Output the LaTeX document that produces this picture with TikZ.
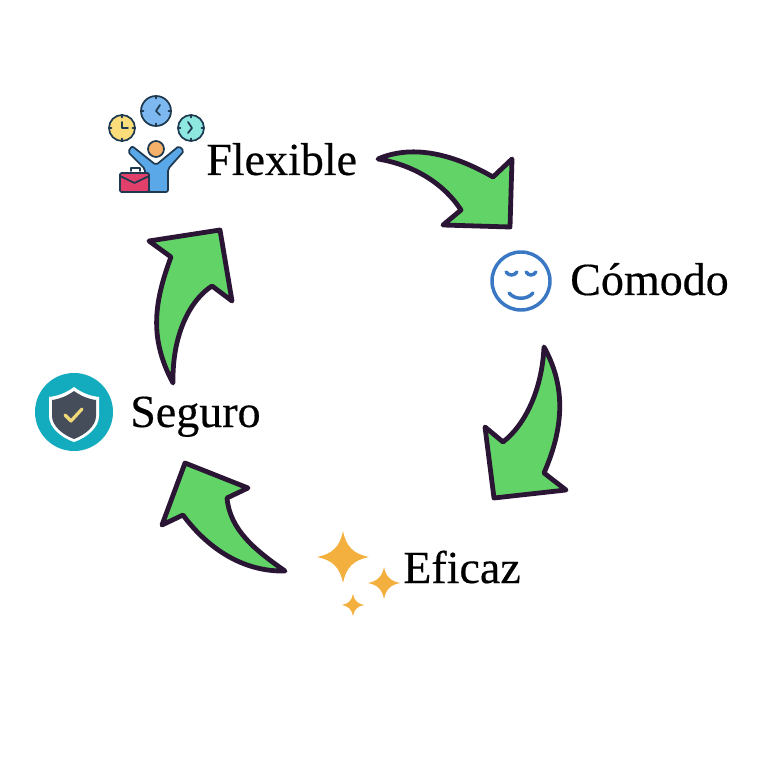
\documentclass[tikz,border=0pt]{standalone}
\usepackage{fontspec}
\setmainfont[FakeBold=0.35]{Liberation Serif}
\definecolor{arrowgreen}{HTML}{62D367}
\definecolor{arrowink}{HTML}{2A1534}
\definecolor{iconink}{HTML}{1F3A50}
\definecolor{clockblue}{HTML}{7DB8F0}
\definecolor{clockyellow}{HTML}{FBDC7A}
\definecolor{clockcyan}{HTML}{8FE8E0}
\definecolor{skin}{HTML}{F5B06A}
\definecolor{bodyblue}{HTML}{5AA8E8}
\definecolor{caseред}{HTML}{E0406A}
\definecolor{smile}{HTML}{3A78C4}
\definecolor{teal}{HTML}{13ACBE}
\definecolor{shielddark}{HTML}{454D5B}
\definecolor{checkyellow}{HTML}{F0D878}
\definecolor{spark}{HTML}{F4B03E}
\tikzset{
  flow/.style={draw=arrowink,fill=arrowgreen,line width=3.6pt,line join=round},
  label/.style={anchor=base west,inner sep=0pt,font=\fontsize{34.5}{36}\selectfont,text=black},
  iconline/.style={draw=iconink,line width=1.3pt,line join=round,line cap=round},
  smileline/.style={draw=smile,line width=2.6pt,line cap=round},
}
\begin{document}
\begin{tikzpicture}[x=0.75pt,y=-0.75pt]
\useasboundingbox (0,0) rectangle (768,759);
\fill[white] (0,0) rectangle (768,759);
% arrows
\draw[flow] (378,159) .. controls (410,145) and (450,152) .. (493,177) -- (512,159) -- (510,227) -- (443,225) -- (461,210) .. controls (445,185) and (415,165) .. (378,159) -- cycle;
\draw[flow] (544,347) .. controls (565,385) and (565,425) .. (544,473) -- (566,490) -- (494,498) -- (485,427) -- (503,442) .. controls (525,425) and (542,390) .. (544,347) -- cycle;
\draw[flow] (285,571) .. controls (255,550) and (230,530) .. (227,498) -- (248,488) -- (185,463) -- (162,525) -- (183,515) .. controls (205,545) and (240,572) .. (285,571) -- cycle;
\draw[flow] (173,383) .. controls (150,340) and (153,305) .. (171,257) -- (149,241) -- (220,230) -- (232,301) -- (212,286) .. controls (190,300) and (172,335) .. (173,383) -- cycle;
% labels
\node[label] (flexible) at (206,175) {Flexible};
\node[label] (comodo) at (570,295) {Cómodo};
\node[label] (seguro) at (130,427) {Seguro};
\node[label] (eficaz) at (403,583) {Eficaz};
% flexible icon: clocks
\foreach \cx/\cy/\cr/\cc in {156/111/15/clockblue,122/128/13/clockyellow,191/128/13/clockcyan}{
  \draw[iconline,fill=\cc] (\cx,\cy) circle[radius=\cr];
  \foreach \ang in {0,90,180,270}{
    \draw[iconline] (\cx,\cy) ++(\ang:\cr) -- ++(\ang+180:2.5);
  }
}
\draw[iconline] (160,105) -- (156,111) -- (160,115);
\draw[iconline] (122,122) -- (122,128) -- (128,128);
\draw[iconline] (188,122) -- (192,128) -- (188,133);
% flexible icon: person
\draw[iconline,fill=bodyblue,rounded corners=1.5pt] (145,192) -- (145,169) -- (128,152) -- (132,146) -- (156,165) -- (179,146) -- (184,151) -- (168,169) -- (168,192) -- cycle;
\draw[iconline,fill=skin] (156,149) circle[radius=8];
\draw[iconline] (131,171) -- (131,168) -- (140,168) -- (140,171);
\draw[iconline,fill=caseред,rounded corners=1pt] (120,173) rectangle (149,192);
\draw[iconline] (120,176) -- (134.5,183) -- (149,176);
% smiley
\draw[smileline] (521,281) circle[radius=29];
\draw[smileline] (506,272) .. controls (509,276) and (514,276) .. (517,272);
\draw[smileline] (526,272) .. controls (529,276) and (533,276) .. (536,272);
\draw[smileline] (509,293) .. controls (515,300) and (527,300) .. (533,293);
% shield
\fill[teal] (74,412) circle[radius=39];
\fill[white] (74,387) .. controls (66,393) and (58,396) .. (49,397) -- (49,416) .. controls (49,428) and (62,438) .. (74,442) .. controls (86,438) and (99,428) .. (99,416) -- (99,397) .. controls (90,396) and (82,393) .. (74,387) -- cycle;
\fill[shielddark] (74,391) .. controls (67,396) and (60,399) .. (52,400) -- (52,416) .. controls (52,426) and (63,435) .. (74,439) .. controls (85,435) and (96,426) .. (96,416) -- (96,400) .. controls (88,399) and (81,396) .. (74,391) -- cycle;
\draw[checkyellow,line width=2.4pt,line join=round,line cap=round] (65,415) -- (71,421) -- (82,409);
% sparkles
\foreach \sx/\sy/\sr in {343/557/26,384/583/16,353/605/11}{
  \fill[spark] (\sx,\sy) ++(0,-\sr)
    .. controls +(0.12*\sr,0.6*\sr) and +(-0.6*\sr,-0.12*\sr) .. ++(\sr,\sr)
    .. controls +(-0.6*\sr,0.12*\sr) and +(0.12*\sr,-0.6*\sr) .. ++(-\sr,\sr)
    .. controls +(-0.12*\sr,-0.6*\sr) and +(0.6*\sr,0.12*\sr) .. ++(-\sr,-\sr)
    .. controls +(0.6*\sr,-0.12*\sr) and +(-0.12*\sr,0.6*\sr) .. ++(\sr,-\sr) -- cycle;
}
\end{tikzpicture}
\end{document}
